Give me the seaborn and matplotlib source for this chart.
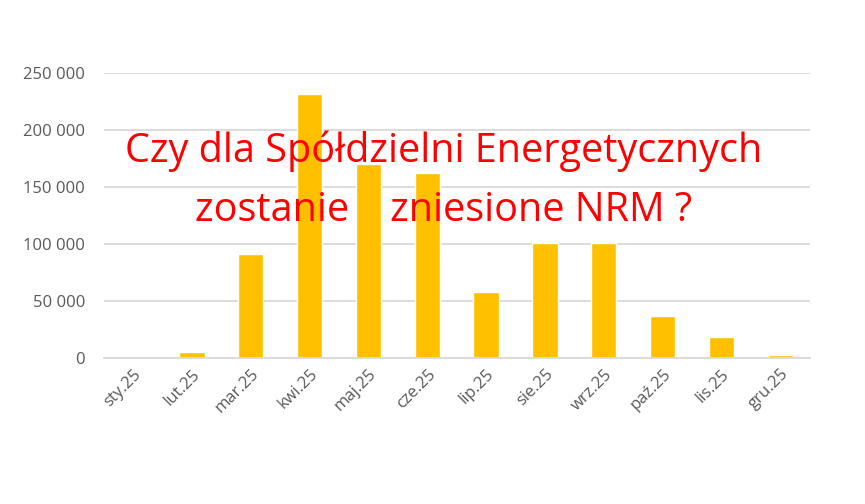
import matplotlib.pyplot as plt
import seaborn as sns
import pandas as pd
from matplotlib.ticker import FuncFormatter, FixedLocator

# monthly values
months = ['sty.25', 'lut.25', 'mar.25', 'kwi.25', 'maj.25', 'cze.25',
          'lip.25', 'sie.25', 'wrz.25', 'paź.25', 'lis.25', 'gru.25']
values = [0, 5000, 91000, 232000, 170000, 162000,
          58000, 101000, 101000, 37000, 18000, 2500]
y_ticks = [0, 50000, 100000, 150000, 200000, 250000]

df = pd.DataFrame({'month': months, 'value': values})

sns.set_style('white')
plt.rcParams['font.family'] = ['Open Sans', 'DejaVu Sans']

fig = plt.figure(figsize=(8.65, 5.04), dpi=100)
ax = fig.add_axes([0.120, 0.290, 0.816, 0.565])

sns.barplot(data=df, x='month', y='value', color='#FFC000', width=0.43,
            saturation=1, ax=ax)

ax.set_xlim(-0.5, len(months) - 0.5)
ax.set_ylim(0, 250000)
ax.set_yticks(y_ticks)
ax.yaxis.set_major_formatter(FuncFormatter(lambda v, p: f'{int(v):,}'.replace(',', ' ')))
ax.grid(axis='y', color='#D9D9D9', linewidth=1.3)
ax.set_axisbelow(True)

for s in ['top', 'right', 'left']:
    ax.spines[s].set_visible(False)
ax.spines['bottom'].set_color('#D9D9D9')
ax.spines['bottom'].set_linewidth(1.3)

ax.tick_params(axis='y', length=0, pad=13.5, labelsize=12, labelcolor='#595959')
ax.tick_params(axis='x', which='major', length=0, pad=6, labelsize=12, labelcolor='#595959')
ax.xaxis.set_minor_locator(FixedLocator([i - 0.5 for i in range(len(months) + 1)]))
ax.tick_params(axis='x', which='minor', length=6, width=1.3, color='#D9D9D9')
plt.setp(ax.get_xticklabels(), rotation=45, ha='right', rotation_mode='anchor')

ax.set_xlabel('')
ax.set_ylabel('')

fig.text(0.513, 0.700, 'Czy dla Spółdzielni Energetycznych', color='#FF0000',
         fontsize=28.5, ha='center', va='center')
fig.text(0.513, 0.582, 'zostanie    zniesione NRM ?', color='#FF0000',
         fontsize=28.5, ha='center', va='center')

fig.savefig('out.png', dpi=100)
